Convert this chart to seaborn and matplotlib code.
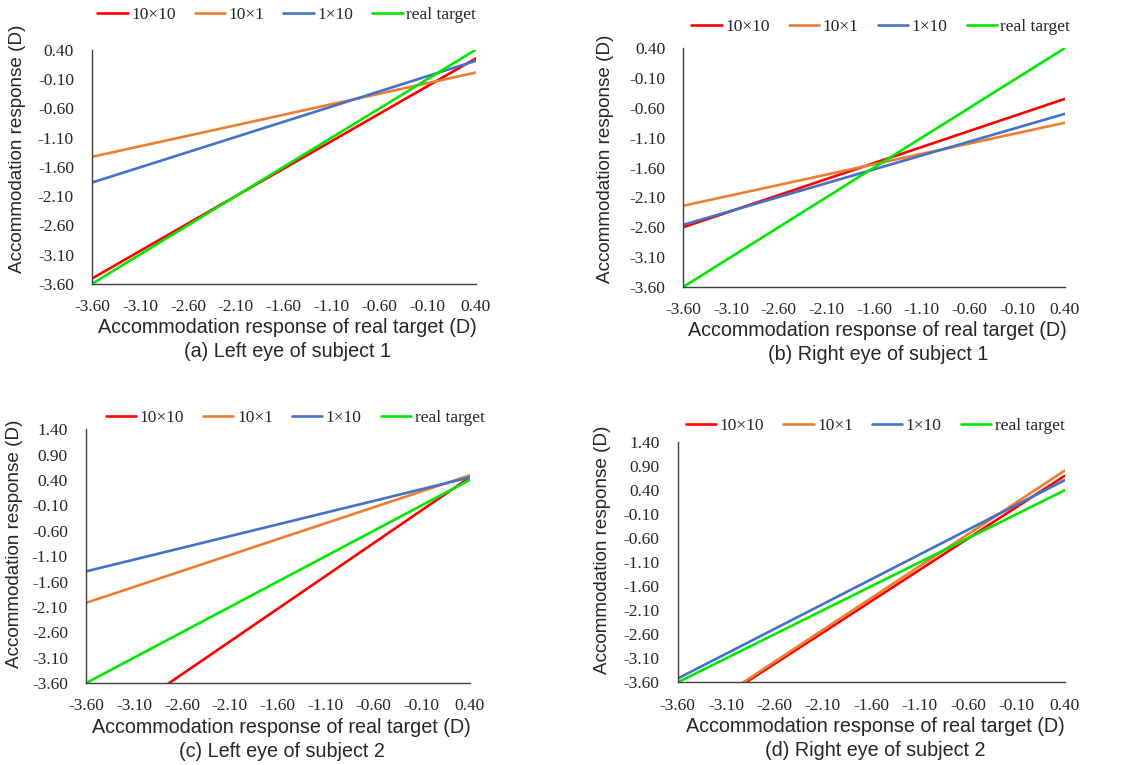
import matplotlib
matplotlib.use("Agg")
import matplotlib.pyplot as plt
from matplotlib.ticker import FormatStrFormatter
import seaborn as sns
import pandas as pd

# endpoints of the fitted lines, x from -3.6 D to 0.4 D
x_ends = [-3.6, 0.4]
series_names = ["10\u00d710", "10\u00d71", "1\u00d710", "real target"]

a_10x10 = [-3.51, 0.25]
a_10x1 = [-1.43, 0.01]
a_1x10 = [-1.87, 0.21]
a_real = [-3.60, 0.40]

b_10x10 = [-2.60, -0.45]
b_10x1 = [-2.24, -0.85]
b_1x10 = [-2.56, -0.70]
b_real = [-3.60, 0.40]

c_10x10 = [-4.72, 0.45]
c_10x1 = [-2.02, 0.49]
c_1x10 = [-1.40, 0.45]
c_real = [-3.60, 0.40]

d_10x10 = [-4.52, 0.70]
d_10x1 = [-4.50, 0.81]
d_1x10 = [-3.52, 0.61]
d_real = [-3.60, 0.40]

x_ticks = [-3.6, -3.1, -2.6, -2.1, -1.6, -1.1, -0.6, -0.1, 0.4]
y_ticks_top = [-3.6, -3.1, -2.6, -2.1, -1.6, -1.1, -0.6, -0.1, 0.4]
y_ticks_bottom = [-3.6, -3.1, -2.6, -2.1, -1.6, -1.1, -0.6, -0.1, 0.4, 0.9, 1.4]

captions = ["(a) Left eye of subject 1", "(b) Right eye of subject 1",
            "(c) Left eye of subject 2", "(d) Right eye of subject 2"]

colors = ["#FF0000", "#ED7D31", "#4472C4", "#00E800"]

sns.set_style("white")
plt.rcParams["axes.unicode_minus"] = False
plt.rcParams["font.family"] = ["Liberation Sans", "DejaVu Sans"]

fig = plt.figure(figsize=(11.22, 7.65), dpi=100)

# axes box, y ticks, legend centre, y-label centre (axes coords)
panels = [
    ([a_10x10, a_10x1, a_1x10, a_real], [0.082, 0.629, 0.342, 0.306], y_ticks_top, (0.507, 1.15), (-0.194, 0.577)),
    ([b_10x10, b_10x1, b_1x10, b_real], [0.609, 0.625, 0.340, 0.312], y_ticks_top, (0.518, 1.088), (-0.205, 0.536)),
    ([c_10x10, c_10x1, c_1x10, c_real], [0.0766, 0.107, 0.342, 0.332], y_ticks_bottom, (0.545, 1.043), (-0.186, 0.547)),
    ([d_10x10, d_10x1, d_1x10, d_real], [0.604, 0.108, 0.345, 0.314], y_ticks_bottom, (0.51, 1.067), (-0.195, 0.552)),
]

for i, (vals, pos, yt, leg_xy, ylab_xy) in enumerate(panels):
    ax = fig.add_axes(pos)
    rows = []
    for name, v in zip(series_names, vals):
        for xx, yy in zip(x_ends, v):
            rows.append({"x": xx, "y": yy, "series": name})
    df = pd.DataFrame(rows)
    sns.lineplot(data=df, x="x", y="y", hue="series", hue_order=series_names,
                 palette=colors, linewidth=1.9, ax=ax)

    ax.set_xlim(x_ticks[0], x_ticks[-1])
    ax.set_ylim(yt[0], yt[-1])
    ax.set_xticks(x_ticks)
    ax.set_yticks(yt)
    ax.xaxis.set_major_formatter(FormatStrFormatter("%.2f"))
    ax.yaxis.set_major_formatter(FormatStrFormatter("%.2f"))
    for lab in ax.get_xticklabels() + ax.get_yticklabels():
        lab.set_fontfamily("Liberation Serif")
        lab.set_fontsize(12.5)
    ax.tick_params(axis="both", direction="in", length=5, width=1, color="#404040")
    ax.tick_params(axis="y", pad=13)
    ax.tick_params(axis="x", pad=11)
    sns.despine(ax=ax)
    for s in ["left", "bottom"]:
        ax.spines[s].set_color("#404040")
        ax.spines[s].set_linewidth(1.0)

    ax.set_xlabel("")
    ax.set_ylabel("Accommodation response (D)", fontsize=13.6, va="center")
    ax.yaxis.set_label_coords(*ylab_xy)
    # x label and caption sit a fixed pixel distance under the axes
    ax.annotate("Accommodation response of real target (D)", xy=(0.51, 0),
                xycoords="axes fraction", xytext=(0, -44), textcoords="offset pixels",
                fontsize=14.2, ha="center", va="center")
    ax.annotate(captions[i], xy=(0.51, 0), xycoords="axes fraction",
                xytext=(0, -68), textcoords="offset pixels",
                fontsize=14.2, ha="center", va="center")

    handles, labels = ax.get_legend_handles_labels()
    ax.legend(handles, labels, loc="center", bbox_to_anchor=leg_xy, ncol=4,
              frameon=False, handlelength=1.75, handletextpad=0.2, columnspacing=1.1,
              borderaxespad=0, prop={"family": "Liberation Serif", "size": 12.5})

fig.savefig("out.png", dpi=100)
